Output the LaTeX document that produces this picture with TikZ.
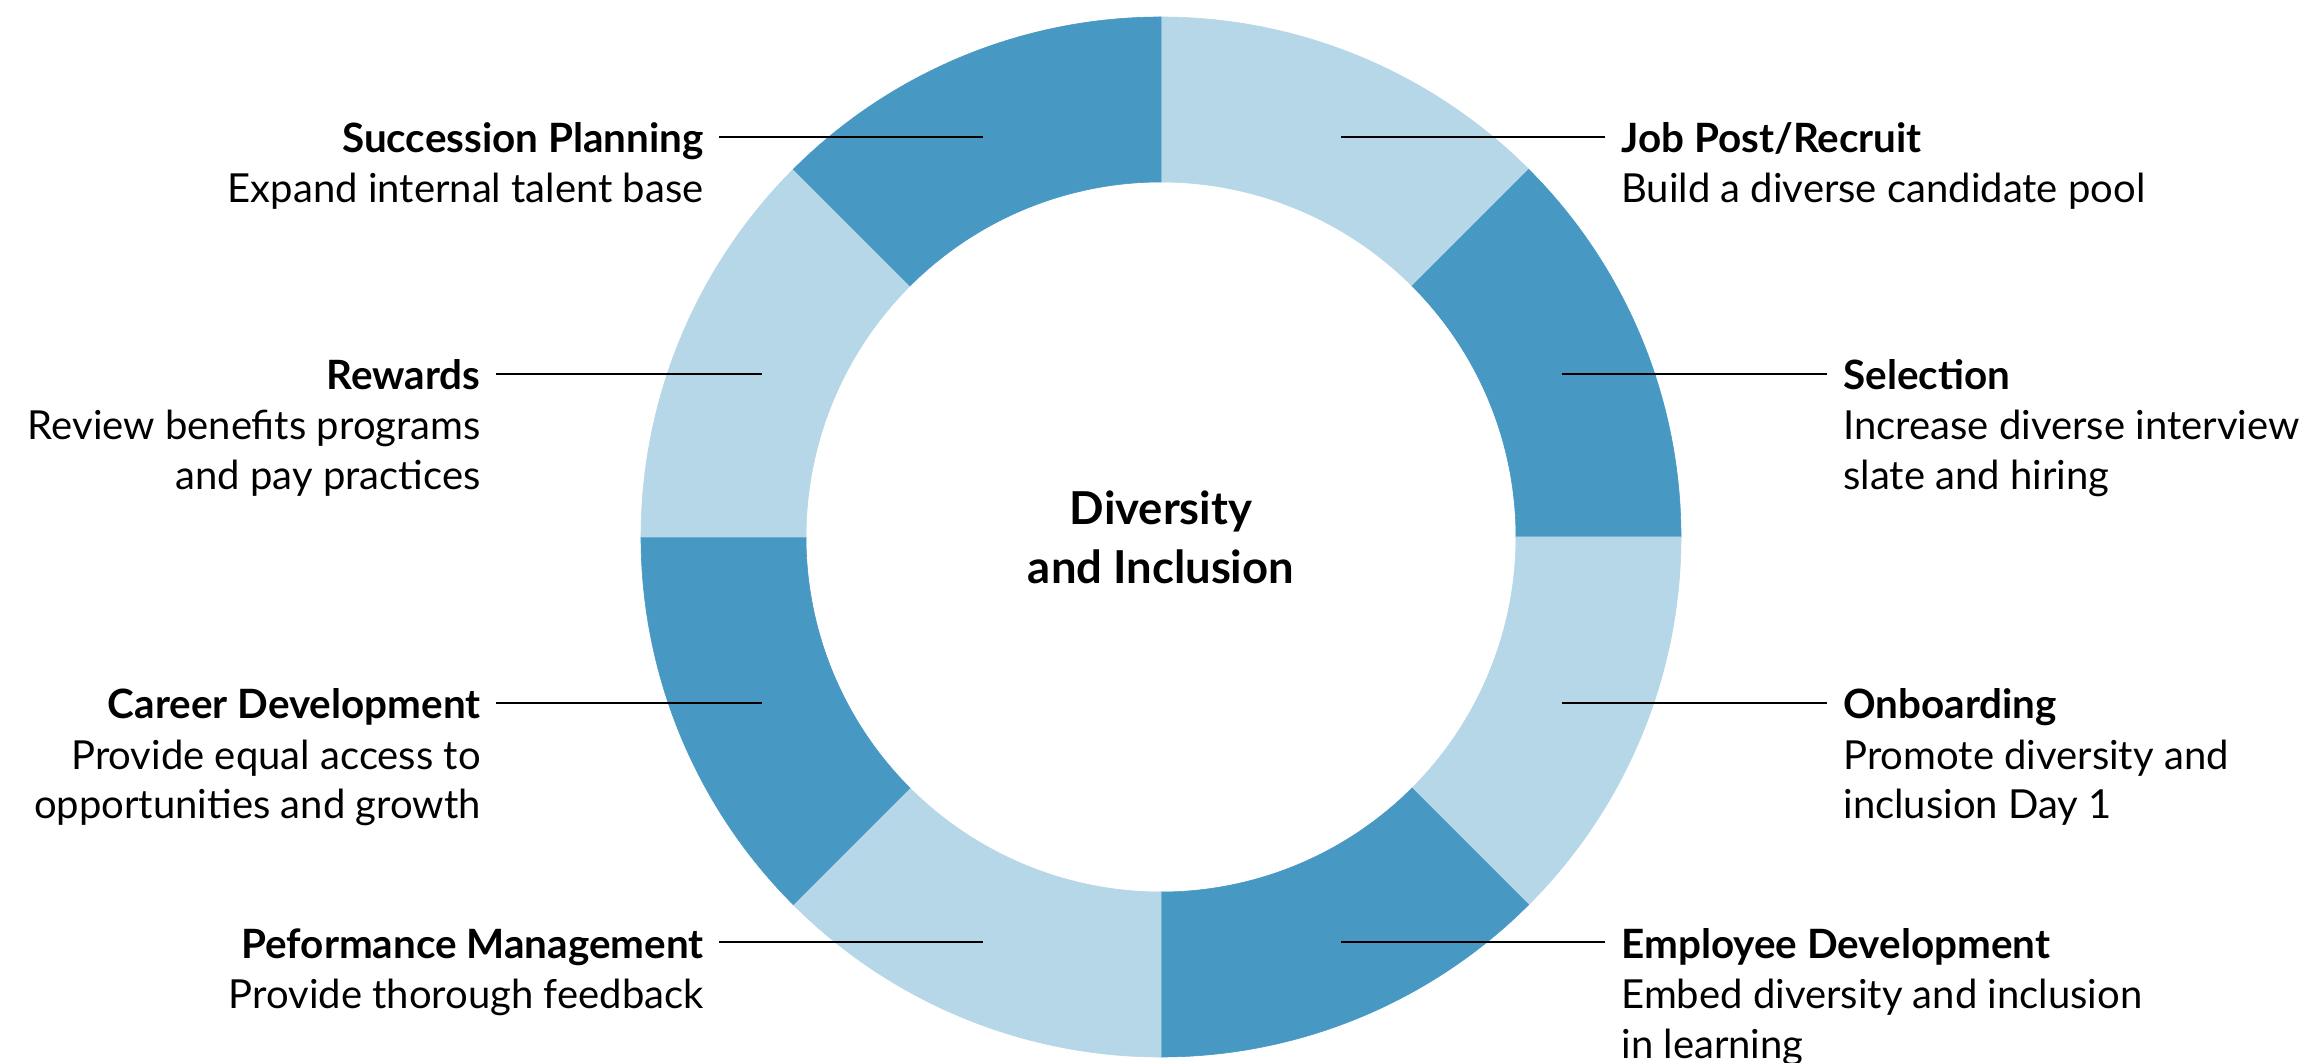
\documentclass[tikz,border=0pt]{standalone}
\usepackage{fontspec}
\setmainfont{Lato}
\usetikzlibrary{calc}
\definecolor{segdark}{RGB}{71,153,196}
\definecolor{seglight}{RGB}{181,215,231}
\newcommand{\ttlfont}{\fontsize{20.2}{25}\bfseries\selectfont}
\begin{document}
\begin{tikzpicture}[x=0.5pt,y=0.5pt,
  lab/.style={inner sep=0pt, font=\fontsize{20}{25}\selectfont},
  labL/.style={lab, anchor=base east},
  labR/.style={lab, anchor=base west},
  leader/.style={line width=0.6pt, black},
  ctr/.style={inner sep=0pt, anchor=base, font=\fontsize{22.7}{29.5}\bfseries\selectfont}]
\useasboundingbox[fill=white] (0,0) rectangle (2315,-1063);
\coordinate (C) at (1161,-537);
% ring
\foreach \s/\c in {90/seglight,45/segdark,0/seglight,-45/segdark,-90/seglight,-135/segdark,-180/seglight,135/segdark}
  \fill[\c, draw=\c, line width=0.3pt] (C) ++(\s:260pt) arc[start angle=\s, end angle=\s-45, radius=260pt]
     -- ++(\s-45:-82.5pt) arc[start angle=\s-45, end angle=\s, radius=177.5pt] -- cycle;
% centre
\node[ctr] (D) at (1161,-525) {\begin{tabular}[t]{@{}c@{}}Diversity\\ and Inclusion\end{tabular}};
% left labels
\node[labL] (SP) at (704,-153) {\begin{tabular}[t]{@{}r@{}}\ttlfont Succession Planning\\ Expand internal talent base\end{tabular}};
\node[labL] (RW) at (481,-390) {\begin{tabular}[t]{@{}r@{}}\ttlfont Rewards\\ Review benefits programs\\ and pay practices\end{tabular}};
\node[labL] (CD) at (481,-719) {\begin{tabular}[t]{@{}r@{}}\ttlfont Career Development\\ Provide equal access to\\ opportunities and growth\end{tabular}};
\node[labL] (PM) at (704,-958) {\begin{tabular}[t]{@{}r@{}}\ttlfont Peformance Management\\ Provide thorough feedback\end{tabular}};
% right labels
\node[labR] (JP) at (1621,-153) {\begin{tabular}[t]{@{}l@{}}\ttlfont Job Post/Recruit\\ Build a diverse candidate pool\end{tabular}};
\node[labR] (SE) at (1843,-390) {\begin{tabular}[t]{@{}l@{}}\ttlfont Selection\\ Increase diverse interview\\ slate and hiring\end{tabular}};
\node[labR] (OB) at (1843,-719) {\begin{tabular}[t]{@{}l@{}}\ttlfont Onboarding\\ Promote diversity and\\ inclusion Day 1\end{tabular}};
\node[labR] (ED) at (1621,-958) {\begin{tabular}[t]{@{}l@{}}\ttlfont Employee Development\\ Embed diversity and inclusion\\ in learning\end{tabular}};
% leader end points on the ring
\coordinate (eSP) at (983,-137);
\coordinate (eRW) at (762,-374);
\coordinate (eCD) at (762,-703);
\coordinate (ePM) at (983,-942);
\coordinate (eJP) at (1341,-137);
\coordinate (eSE) at (1562,-374);
\coordinate (eOB) at (1562,-703);
\coordinate (eED) at (1341,-942);
\draw[leader] ($(SP.base east)+(15,16)$) -- (eSP);
\draw[leader] ($(RW.base east)+(15,16)$) -- (eRW);
\draw[leader] ($(CD.base east)+(15,16)$) -- (eCD);
\draw[leader] ($(PM.base east)+(15,16)$) -- (ePM);
\draw[leader] ($(JP.base west)+(-16,16)$) -- (eJP);
\draw[leader] ($(SE.base west)+(-16,16)$) -- (eSE);
\draw[leader] ($(OB.base west)+(-16,16)$) -- (eOB);
\draw[leader] ($(ED.base west)+(-16,16)$) -- (eED);
\end{tikzpicture}
\end{document}
